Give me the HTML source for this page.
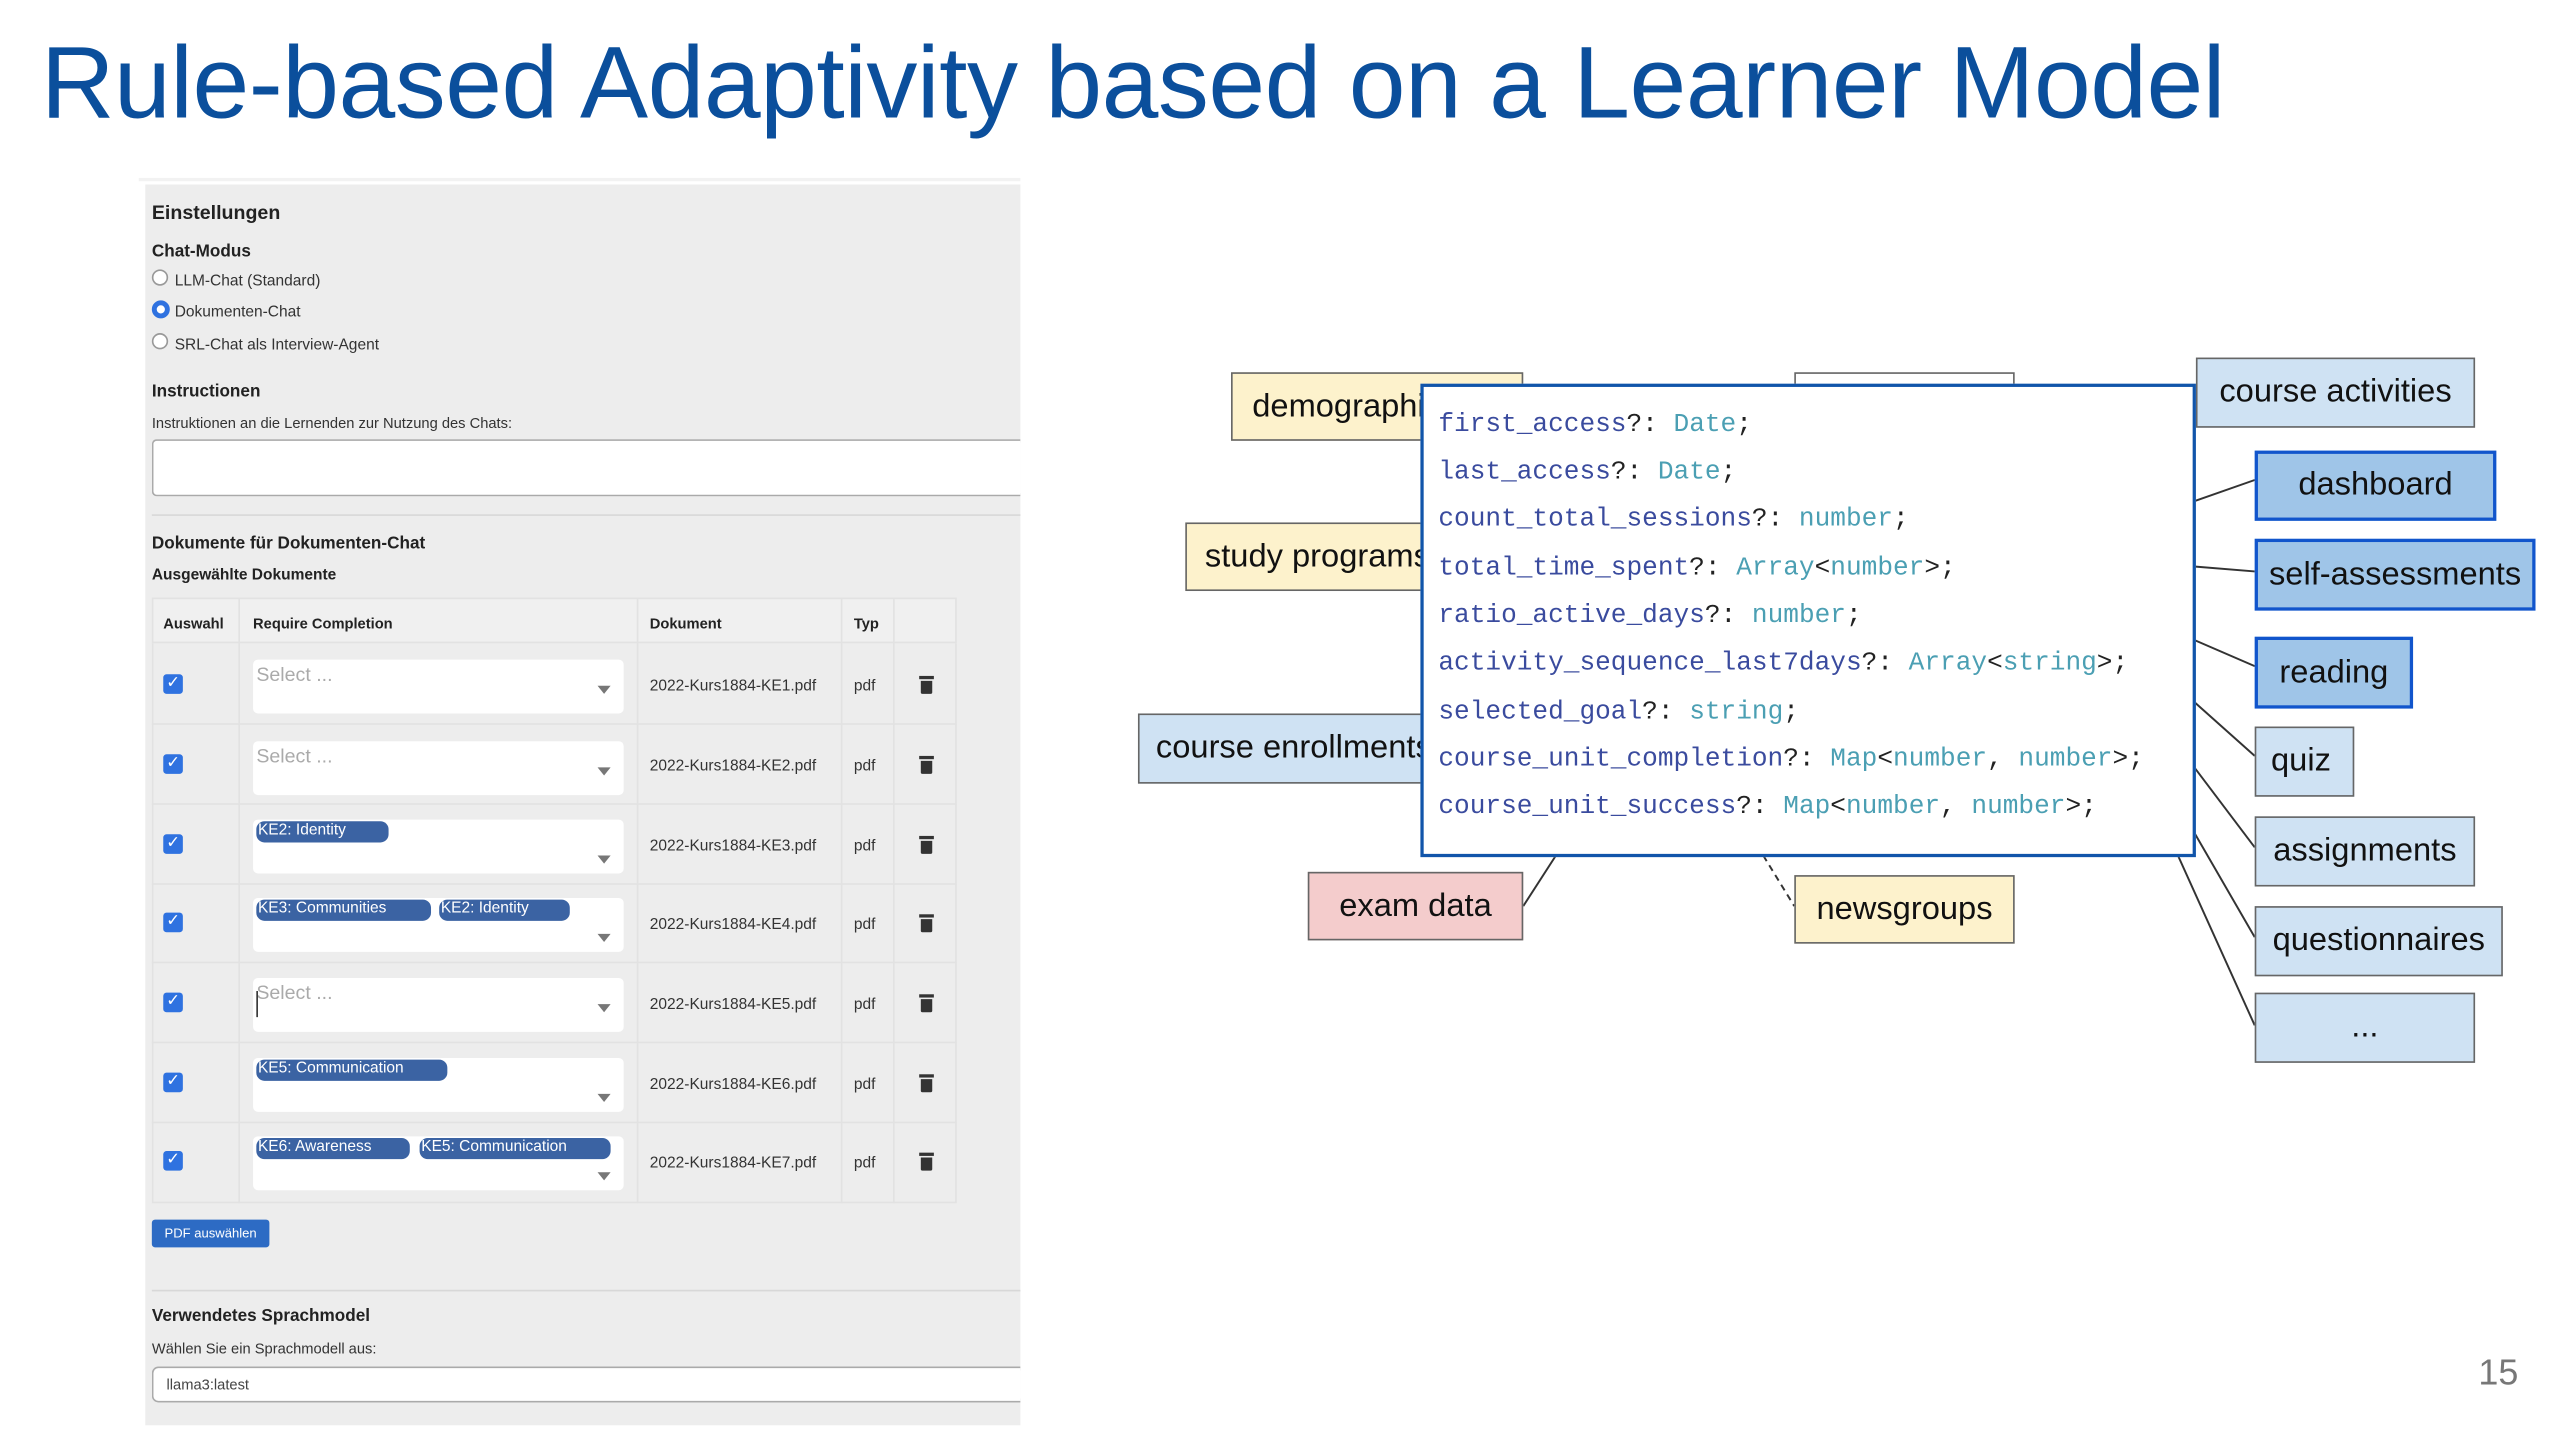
<!DOCTYPE html>
<html><head><meta charset="utf-8"><style>
html,body{margin:0;padding:0;background:#fff;width:2560px;height:1440px;overflow:hidden}
#s{position:absolute;left:0;top:0;width:1568px;height:882px;transform:scale(1.63265);transform-origin:0 0;font-family:"Liberation Sans",Arial,sans-serif}
.a{position:absolute;white-space:nowrap}
.b{font-weight:bold;color:#222}
.t{color:#333;font-size:9.5px}
.sel{position:absolute;left:155px;width:227px;height:33px;background:#fff;border-radius:3px}
.ph{position:absolute;left:2px;top:2px;font-size:12px;color:#aaa}
.arr{position:absolute;right:8px;top:16px;width:0;height:0;border-left:4px solid transparent;border-right:4px solid transparent;border-top:5px solid #777}
.tag{position:absolute;top:1px;height:13px;background:#3b63a3;border-radius:5px;color:#fff;font-size:9.5px;line-height:12px;padding-left:1px}
.cb{position:absolute;left:100px;width:12px;height:12px;background:#2f72e0;border-radius:2px;color:#fff;font-size:10px;line-height:12px;text-align:center}
.cell{position:absolute;font-size:9.5px;color:#333}
.trash{position:absolute;left:564px;width:7px;height:8px;background:#333;border-radius:0 0 1px 1px}
.trash:before{content:"";position:absolute;left:-1px;top:-3px;width:9px;height:2px;background:#333}
.box{position:absolute;box-sizing:border-box;border:1.5px solid #666;font-size:20px;color:#111;display:flex;align-items:center;justify-content:center;overflow:hidden;white-space:nowrap}
.y{background:#fdf2cc}.lb{background:#cfe2f3}.db{background:#9fc5e8;border:2.5px solid #1155cc}
.code{position:absolute;left:881px;font-family:"Liberation Mono",monospace;font-size:16px;color:#222;white-space:nowrap}
.i{color:#3a4b9e}.ty{color:#4b9fb3}
</style></head><body><div id="s">
<div class="a" style="left:25px;top:15px;font-size:62.5px;color:#0b4f9c;letter-spacing:-0.3px">Rule-based Adaptivity based on a Learner Model</div>
<div class="a" style="left:1518px;top:828px;font-size:22px;color:#777">15</div>

<div class="a" style="left:85px;top:109px;width:540px;height:2px;background:#f2f2f2"></div>
<div class="a" style="left:89px;top:113px;width:536px;height:760px;background:#ededed"></div>
<div class="a b" style="left:93px;top:123px;font-size:12px">Einstellungen</div>
<div class="a b" style="left:93px;top:148px;font-size:10.5px">Chat-Modus</div>
<div class="a" style="left:93px;top:165px;width:10px;height:10px;border-radius:50%;background:#fff;border:1px solid #999;box-sizing:border-box"></div>
<div class="a t" style="left:107px;top:167px">LLM-Chat (Standard)</div>
<div class="a" style="left:93px;top:184px;width:11px;height:11px;border-radius:50%;background:#fff;border:3px solid #2f72e0;box-sizing:border-box"></div>
<div class="a t" style="left:107px;top:186px">Dokumenten-Chat</div>
<div class="a" style="left:93px;top:204px;width:10px;height:10px;border-radius:50%;background:#fff;border:1px solid #999;box-sizing:border-box"></div>
<div class="a t" style="left:107px;top:206px">SRL-Chat als Interview-Agent</div>
<div class="a b" style="left:93px;top:234px;font-size:10.5px">Instructionen</div>
<div class="a t" style="left:93px;top:254px;font-size:9px">Instruktionen an die Lernenden zur Nutzung des Chats:</div>
<div class="a" style="left:93px;top:269px;width:532px;height:35px;background:#fff;border:1px solid #aaa;border-right:none;border-radius:3px 0 0 3px;box-sizing:border-box"></div>
<div class="a" style="left:93px;top:315px;width:532px;height:1px;background:#d8d8d8"></div>
<div class="a b" style="left:93px;top:327px;font-size:10.5px">Dokumente für Dokumenten-Chat</div>
<div class="a b" style="left:93px;top:347px;font-size:9.5px">Ausgewählte Dokumente</div>

<div class="a" style="left:93px;top:366px;width:493px;height:371px;border:1px solid #e2e2e2;box-sizing:border-box"></div>
<div class="a" style="left:93px;top:366px;width:493px;height:28px;background:#f0f0f0;border:1px solid #e2e2e2;box-sizing:border-box"></div>
<div class="a" style="left:146px;top:366px;width:1px;height:371px;background:#e2e2e2"></div>
<div class="a" style="left:390px;top:366px;width:1px;height:371px;background:#e2e2e2"></div>
<div class="a" style="left:515px;top:366px;width:1px;height:371px;background:#e2e2e2"></div>
<div class="a" style="left:547px;top:366px;width:1px;height:371px;background:#e2e2e2"></div>
<div class="a b" style="left:100px;top:377px;font-size:9px">Auswahl</div>
<div class="a b" style="left:155px;top:377px;font-size:9px">Require Completion</div>
<div class="a b" style="left:398px;top:377px;font-size:9px">Dokument</div>
<div class="a b" style="left:523px;top:377px;font-size:9px">Typ</div>

<div class="a" style="left:93px;top:443px;width:493px;height:1px;background:#e2e2e2"></div>
<div class="a" style="left:93px;top:492px;width:493px;height:1px;background:#e2e2e2"></div>
<div class="a" style="left:93px;top:541px;width:493px;height:1px;background:#e2e2e2"></div>
<div class="a" style="left:93px;top:589px;width:493px;height:1px;background:#e2e2e2"></div>
<div class="a" style="left:93px;top:638px;width:493px;height:1px;background:#e2e2e2"></div>
<div class="a" style="left:93px;top:687px;width:493px;height:1px;background:#e2e2e2"></div>

<div class="cb" style="top:413px">✓</div><div class="sel" style="top:404px"><div class="ph">Select ...</div><div class="arr"></div></div><div class="cell" style="left:398px;top:415px">2022-Kurs1884-KE1.pdf</div><div class="cell" style="left:523px;top:415px">pdf</div><div class="trash" style="top:417px"></div>
<div class="cb" style="top:462px">✓</div><div class="sel" style="top:454px"><div class="ph">Select ...</div><div class="arr"></div></div><div class="cell" style="left:398px;top:464px">2022-Kurs1884-KE2.pdf</div><div class="cell" style="left:523px;top:464px">pdf</div><div class="trash" style="top:466px"></div>
<div class="cb" style="top:511px">✓</div><div class="sel" style="top:502px"><div class="tag" style="left:2px;width:80px">KE2: Identity</div><div class="arr" style="top:22px"></div></div><div class="cell" style="left:398px;top:513px">2022-Kurs1884-KE3.pdf</div><div class="cell" style="left:523px;top:513px">pdf</div><div class="trash" style="top:515px"></div>
<div class="cb" style="top:559px">✓</div><div class="sel" style="top:550px"><div class="tag" style="left:2px;width:106px">KE3: Communities</div><div class="tag" style="left:114px;width:79px">KE2: Identity</div><div class="arr" style="top:22px"></div></div><div class="cell" style="left:398px;top:561px">2022-Kurs1884-KE4.pdf</div><div class="cell" style="left:523px;top:561px">pdf</div><div class="trash" style="top:563px"></div>
<div class="cb" style="top:608px">✓</div><div class="sel" style="top:599px"><div class="ph">Select ...</div><div class="a" style="left:2px;top:8px;width:1px;height:16px;background:#333"></div><div class="arr"></div></div><div class="cell" style="left:398px;top:610px">2022-Kurs1884-KE5.pdf</div><div class="cell" style="left:523px;top:610px">pdf</div><div class="trash" style="top:612px"></div>
<div class="cb" style="top:657px">✓</div><div class="sel" style="top:648px"><div class="tag" style="left:2px;width:116px">KE5: Communication</div><div class="arr" style="top:22px"></div></div><div class="cell" style="left:398px;top:659px">2022-Kurs1884-KE6.pdf</div><div class="cell" style="left:523px;top:659px">pdf</div><div class="trash" style="top:661px"></div>
<div class="cb" style="top:705px">✓</div><div class="sel" style="top:696px"><div class="tag" style="left:2px;width:93px">KE6: Awareness</div><div class="tag" style="left:102px;width:116px">KE5: Communication</div><div class="arr" style="top:22px"></div></div><div class="cell" style="left:398px;top:707px">2022-Kurs1884-KE7.pdf</div><div class="cell" style="left:523px;top:707px">pdf</div><div class="trash" style="top:709px"></div>

<div class="a" style="left:93px;top:747px;width:72px;height:17px;background:#2d6bc4;border-radius:2px;color:#fff;font-size:8px;line-height:17px;text-align:center">PDF auswählen</div>
<div class="a" style="left:93px;top:790px;width:532px;height:1px;background:#d8d8d8"></div>
<div class="a b" style="left:93px;top:800px;font-size:10.5px">Verwendetes Sprachmodel</div>
<div class="a t" style="left:93px;top:821px;font-size:9px">Wählen Sie ein Sprachmodell aus:</div>
<div class="a" style="left:93px;top:837px;width:532px;height:22px;background:#fff;border:1px solid #aaa;border-right:none;border-radius:4px 0 0 4px;box-sizing:border-box;font-size:9px;color:#444;line-height:20px;padding-left:8px">llama3:latest</div>

<svg class="a" style="left:0;top:0" width="1568" height="882">
<g stroke="#333" stroke-width="1.2" fill="none">
<line x1="1344" y1="307" x2="1381" y2="294"/>
<line x1="1344" y1="347" x2="1381" y2="350"/>
<line x1="1344" y1="392" x2="1381" y2="408"/>
<line x1="1344" y1="430" x2="1381" y2="463"/>
<line x1="1344" y1="470" x2="1381" y2="519"/>
<line x1="1344" y1="510" x2="1381" y2="574"/>
<line x1="1334" y1="524" x2="1381" y2="628"/>
<line x1="933" y1="555" x2="953" y2="524"/>
<line x1="1080" y1="524" x2="1099" y2="555" stroke-dasharray="4,3"/>
</g></svg>
<div class="box y" style="left:754px;top:228px;width:179px;height:42px;justify-content:flex-start;padding-left:12px">demographics</div>
<div class="box" style="left:1099px;top:228px;width:135px;height:20px;background:#fff"></div>
<div class="box y" style="left:726px;top:320px;width:170px;height:42px;justify-content:flex-start;padding-left:11px">study programs</div>
<div class="box lb" style="left:697px;top:437px;width:190px;height:43px;justify-content:flex-start;padding-left:10px">course enrollments</div>
<div class="box" style="left:801px;top:534px;width:132px;height:42px;background:#f4cccc">exam data</div>
<div class="box y" style="left:1099px;top:536px;width:135px;height:42px">newsgroups</div>
<div class="box lb" style="left:1345px;top:219px;width:171px;height:43px">course activities</div>
<div class="box db" style="left:1381px;top:276px;width:148px;height:43px">dashboard</div>
<div class="box db" style="left:1381px;top:330px;width:172px;height:44px">self-assessments</div>
<div class="box db" style="left:1381px;top:390px;width:97px;height:44px">reading</div>
<div class="box lb" style="left:1381px;top:445px;width:61px;height:43px;justify-content:flex-start;padding-left:9px">quiz</div>
<div class="box lb" style="left:1381px;top:500px;width:135px;height:43px">assignments</div>
<div class="box lb" style="left:1381px;top:555px;width:152px;height:43px">questionnaires</div>
<div class="box lb" style="left:1381px;top:608px;width:135px;height:43px">...</div>

<div class="a" style="left:870px;top:235px;width:475px;height:290px;background:#fff;border:2.5px solid #1155aa;box-sizing:border-box"></div>
<div class="code" style="top:251px"><span class="i">first_access</span>?: <span class="ty">Date</span>;</div>
<div class="code" style="top:280px"><span class="i">last_access</span>?: <span class="ty">Date</span>;</div>
<div class="code" style="top:309px"><span class="i">count_total_sessions</span>?: <span class="ty">number</span>;</div>
<div class="code" style="top:339px"><span class="i">total_time_spent</span>?: <span class="ty">Array</span>&lt;<span class="ty">number</span>&gt;;</div>
<div class="code" style="top:368px"><span class="i">ratio_active_days</span>?: <span class="ty">number</span>;</div>
<div class="code" style="top:397px"><span class="i">activity_sequence_last7days</span>?: <span class="ty">Array</span>&lt;<span class="ty">string</span>&gt;;</div>
<div class="code" style="top:427px"><span class="i">selected_goal</span>?: <span class="ty">string</span>;</div>
<div class="code" style="top:456px"><span class="i">course_unit_completion</span>?: <span class="ty">Map</span>&lt;<span class="ty">number</span>, <span class="ty">number</span>&gt;;</div>
<div class="code" style="top:485px"><span class="i">course_unit_success</span>?: <span class="ty">Map</span>&lt;<span class="ty">number</span>, <span class="ty">number</span>&gt;;</div>
</div></body></html>
